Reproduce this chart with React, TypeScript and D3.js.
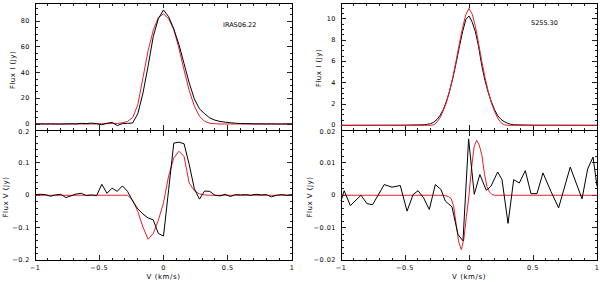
import React, { useEffect, useRef } from 'react';
import * as d3 from 'd3';

// velocity grids (km/s)
const velL = [
  -1, -0.96, -0.92, -0.88, -0.84, -0.8, -0.76, -0.72, -0.68, -0.64, -0.6, -0.56, -0.52,
  -0.48, -0.44, -0.4, -0.36, -0.32, -0.28, -0.24, -0.2, -0.16, -0.12, -0.08, -0.04, 0,
  0.04, 0.08, 0.12, 0.16, 0.2, 0.24, 0.28, 0.32, 0.36, 0.4, 0.44, 0.48, 0.52, 0.56, 0.6,
  0.64, 0.68, 0.72, 0.76, 0.8, 0.84, 0.88, 0.92, 0.96, 1,
];

// IRAS06.22 Stokes I
const iras_I_obs = [
  0, 0.1, 0, 0.1, 0, 0, 0.1, 0.2, 0.1, 0.5, 0.3, 0.7, 0.2,
  -0.6, 0.6, 1.2, -1.2, 0.3, 0.5, 0.8, 8, 24, 45, 68, 82, 88.8,
  83.5, 74, 62, 47, 32, 19.5, 11.8, 8, 4.7, 3, 2, 1.4, 1, 0.6, 0.4,
  0.3, 0.2, 0.1, 0.1, 0, 0.1, 0, 0, 0.1, 0,
];
const iras_I_model = [
  0, 0, 0, 0, 0, 0, 0, 0, 0, 0, 0, 0, 0.1,
  0.2, 0.3, 0.5, 0.4, 1, 2, 5, 15, 36, 57, 73, 83, 85.7,
  82, 73.5, 59, 42, 26, 14, 6, 2, 0.6, 0.2, 0, 0, 0, 0, 0,
  0, 0, 0, 0, 0, 0, 0, 0, 0, 0,
];

// IRAS06.22 Stokes V
const iras_V_obs = [
  0.002, 0.003, 0.002, -0.003, 0.001, 0.003, -0.007, -0.002, 0.004, 0.006, -0.001, 0.001, -0.001,
  0.034, 0.006, 0.022, 0.012, 0.029, 0.012, -0.018, -0.042, -0.058, -0.07, -0.076, -0.118, -0.126,
  0.017, 0.161, 0.164, 0.159, 0.095, 0.02, -0.012, 0.013, 0.012, 0, -0.002, 0.003, -0.004, 0.002, 0.001,
  0.002, 0, 0.003, 0.001, 0.002, -0.005, 0, 0.002, 0, 0.002,
];
const iras_V_model = [
  0, 0, 0, 0, 0, 0, 0, 0, 0, 0, 0, 0, 0,
  0, 0, 0, 0, 0, 0, -0.015, -0.05, -0.098, -0.136, -0.118, -0.077, -0.023,
  0.06, 0.115, 0.136, 0.12, 0.038, 0.014, 0.004, 0.001, 0, 0, 0, 0, 0, 0, 0,
  0, 0, 0, 0, 0, 0, 0, 0, 0, 0,
];

// S255.30 Stokes I
const velR_I = [
  -1, -0.5, -0.35, -0.325, -0.3, -0.275, -0.25, -0.225, -0.2, -0.175, -0.15, -0.125, -0.1,
  -0.075, -0.05, -0.025, 0, 0.025, 0.05, 0.075, 0.1, 0.125, 0.15, 0.175, 0.2, 0.225, 0.25,
  0.275, 0.3, 0.325, 0.35, 0.5, 1,
];
const s255_I_obs = [
  0, 0.01, 0.05, 0.1, 0.15, 0.3, 0.55, 0.95, 1.5, 2.3, 3.3, 4.5, 5.9,
  7.4, 8.8, 9.95, 10.28, 9.7, 8.8, 7.4, 5.6, 4.2, 3.1, 2.2, 1.45, 0.9, 0.55,
  0.35, 0.2, 0.1, 0.05, 0.01, 0,
];
const s255_I_model = [
  0, 0, 0, 0, 0, 0.05, 0.3, 0.75, 1.4, 2.2, 3.3, 4.6, 6.1,
  7.7, 9.2, 10.4, 11.0, 10.45, 9.3, 7.7, 6.0, 4.5, 3.2, 2.1, 1.3, 0.65, 0.25,
  0.05, 0, 0, 0, 0, 0,
];

// S255.30 Stokes V
const velR_Vobs = [
  -1, -0.975, -0.927, -0.844, -0.797, -0.753, -0.662, -0.602, -0.537, -0.484, -0.437,
  -0.398, -0.355, -0.31, -0.263, -0.219, -0.185, -0.133, -0.086, -0.047, -0.003, 0.041,
  0.085, 0.135, 0.172, 0.224, 0.258, 0.305, 0.349, 0.393, 0.44, 0.484, 0.531, 0.578,
  0.64, 0.7, 0.791, 0.883, 0.927, 0.969, 1,
];
const s255_V_obs = [
  -0.0018, 0.0014, -0.0032, 0, -0.0026, -0.0029, 0.0033, 0.0025, 0.003, -0.0049, 0.0002,
  0.0014, -0.0008, -0.0044, 0.0033, 0.0018, -0.0018, -0.0036, -0.0121, -0.0141, 0.0174, 0.0003,
  0.0064, 0.0015, 0.0028, 0.0072, 0.0048, -0.0087, 0.0048, 0.0038, 0.0076, 0.0005, 0.0005, 0.0069,
  0.0012, -0.0039, 0.0087, -0.0011, 0.0081, 0.0118, 0.0028,
];
const velR_Vmod = [
  -1, -0.2, -0.18, -0.16, -0.14, -0.12, -0.1, -0.08, -0.06, -0.04, -0.02, 0,
  0.02, 0.04, 0.06, 0.08, 0.1, 0.12, 0.14, 0.16, 0.18, 0.2, 1,
];
const s255_V_model = [
  0, 0, -0.0002, -0.0004, -0.001, -0.0034, -0.009, -0.0145, -0.0168, -0.0135, -0.0065, 0,
  0.0085, 0.015, 0.017, 0.0155, 0.0125, 0.0068, 0.0027, 0.001, 0.0002, 0, 0,
];

const xTicks = [-1, -0.5, 0, 0.5, 1];
const xTickLabels = ['\u22121', '\u22120.5', '0', '0.5', '1'];
const irasITicks = [0, 20, 40, 60, 80];
const irasVTicks = [-0.2, -0.1, 0, 0.1, 0.2];
const irasVTickLabels = ['\u22120.2', '\u22120.1', '0', '0.1', '0.2'];
const s255ITicks = [0, 2, 4, 6, 8, 10];
const s255VTicks = [-0.02, -0.01, 0, 0.01, 0.02];
const s255VTickLabels = ['\u22120.02', '\u22120.01', '0', '0.01', '0.02'];

const RED = '#e3202b';
const FONT = 'DejaVu Sans';

type Series = { v: number[]; f: number[]; color: string };

interface PanelOpts {
  x0: number; x1: number; y0: number; y1: number;
  yDomain: [number, number];
  yTicks: number[]; yLabels: string[]; yMinor: number;
  xLabels: boolean;
  series: Series[];
  ytitle: string; ytitleX: number; ytitleY: number;
  label?: string; labelX?: number; labelY?: number;
}

function drawPanel(svg: d3.Selection<SVGSVGElement, unknown, null, undefined>, o: PanelOpts) {
  const x = d3.scaleLinear().domain([-1, 1]).range([o.x0, o.x1]);
  const y = d3.scaleLinear().domain(o.yDomain).range([o.y1, o.y0]);
  const g = svg.append('g');

  const tk = g.append('g').attr('stroke', '#222').attr('stroke-width', 1).attr('shape-rendering', 'crispEdges');
  // x ticks (minor every 0.1)
  for (let k = -10; k <= 10; k++) {
    const v = k / 10;
    const len = k % 5 === 0 ? 5 : 2.5;
    tk.append('line').attr('x1', x(v)).attr('x2', x(v)).attr('y1', o.y1).attr('y2', o.y1 - len);
    tk.append('line').attr('x1', x(v)).attr('x2', x(v)).attr('y1', o.y0).attr('y2', o.y0 + len);
  }
  // y minor ticks
  const kLo = Math.ceil(o.yDomain[0] / o.yMinor - 1e-6);
  const kHi = Math.floor(o.yDomain[1] / o.yMinor + 1e-6);
  for (let k = kLo; k <= kHi; k++) {
    const yy = y(k * o.yMinor);
    tk.append('line').attr('x1', o.x0).attr('x2', o.x0 + 2.5).attr('y1', yy).attr('y2', yy);
    tk.append('line').attr('x1', o.x1).attr('x2', o.x1 - 2.5).attr('y1', yy).attr('y2', yy);
  }
  o.yTicks.forEach(t => {
    const yy = y(t);
    tk.append('line').attr('x1', o.x0).attr('x2', o.x0 + 5).attr('y1', yy).attr('y2', yy);
    tk.append('line').attr('x1', o.x1).attr('x2', o.x1 - 5).attr('y1', yy).attr('y2', yy);
  });

  // frame
  g.append('rect')
    .attr('x', o.x0).attr('y', o.y0)
    .attr('width', o.x1 - o.x0).attr('height', o.y1 - o.y0)
    .attr('fill', 'none').attr('stroke', '#000').attr('stroke-width', 1)
    .attr('shape-rendering', 'crispEdges');

  // y tick labels (top label of the lower panels sits just under the separator)
  o.yTicks.forEach((t, i) => {
    const atTop = Math.abs(y(t) - o.y0) < 1;
    g.append('text')
      .attr('x', o.x0 - 5).attr('y', y(t)).attr('dy', atTop ? '0.6em' : '0.3em')
      .attr('text-anchor', 'end')
      .attr('font-family', FONT).attr('font-size', 6.5).attr('letter-spacing', 0.5)
      .text(o.yLabels[i]);
  });

  if (o.xLabels) {
    xTicks.forEach((t, i) => {
      g.append('text')
        .attr('x', x(t)).attr('y', 269.5)
        .attr('text-anchor', 'middle')
        .attr('font-family', FONT).attr('font-size', 6.5).attr('letter-spacing', 0.5)
        .text(xTickLabels[i]);
    });
    g.append('text')
      .attr('x', (o.x0 + o.x1) / 2).attr('y', 279)
      .attr('text-anchor', 'middle')
      .attr('font-family', FONT).attr('font-size', 7).attr('letter-spacing', 0.6)
      .text('V (km/s)');
  }

  g.append('text')
    .attr('transform', `translate(${o.ytitleX},${o.ytitleY}) rotate(-90)`)
    .attr('dy', '0.35em')
    .attr('text-anchor', 'middle')
    .attr('font-family', FONT).attr('font-size', 7).attr('letter-spacing', 0.5)
    .text(o.ytitle);

  if (o.label) {
    g.append('text')
      .attr('x', o.labelX!).attr('y', o.labelY!)
      .attr('font-family', FONT).attr('font-size', 6.5)
      .attr('fill', '#000')
      .text(o.label);
  }

  const line = d3.line<[number, number]>().x(d => x(d[0])).y(d => y(d[1]));
  o.series.forEach(s => {
    const pts = s.v.map((v, i) => [v, s.f[i]] as [number, number]);
    g.append('path')
      .attr('d', line(pts))
      .attr('fill', 'none')
      .attr('stroke', s.color)
      .attr('stroke-width', 1)
      .attr('stroke-linejoin', 'round');
  });
}

export default function App() {
  const ref = useRef<SVGSVGElement>(null);

  useEffect(() => {
    if (!ref.current) return;
    const svg = d3.select(ref.current);
    svg.selectAll('*').remove();

    const L = { x0: 35, x1: 292 };
    const R = { x0: 341, x1: 597 };
    const top = { y0: 3, y1: 130 };
    const bot = { y0: 130.5, y1: 260 };

    drawPanel(svg, {
      ...L, ...top,
      yDomain: [-4.67, 94.2], yTicks: irasITicks, yLabels: irasITicks.map(String), yMinor: 5,
      xLabels: false,
      series: [
        { v: velL, f: iras_I_model, color: RED },
        { v: velL, f: iras_I_obs, color: '#000' },
      ],
      ytitle: 'Flux I (Jy)', ytitleX: 13, ytitleY: 70,
      label: 'IRAS06.22', labelX: 223, labelY: 27,
    });
    drawPanel(svg, {
      ...L, ...bot,
      yDomain: [-0.2, 0.2], yTicks: irasVTicks, yLabels: irasVTickLabels, yMinor: 0.02,
      xLabels: true,
      series: [
        { v: velL, f: iras_V_model, color: RED },
        { v: velL, f: iras_V_obs, color: '#000' },
      ],
      ytitle: 'Flux V (Jy)', ytitleX: 6, ytitleY: 197,
    });
    drawPanel(svg, {
      ...R, ...top,
      yDomain: [-0.44, 11.5], yTicks: s255ITicks, yLabels: s255ITicks.map(String), yMinor: 0.5,
      xLabels: false,
      series: [
        { v: velR_I, f: s255_I_obs, color: '#000' },
        { v: velR_I, f: s255_I_model, color: RED },
      ],
      ytitle: 'Flux I (Jy)', ytitleX: 319, ytitleY: 68,
      label: 'S255.30', labelX: 531, labelY: 25,
    });
    drawPanel(svg, {
      ...R, ...bot,
      yDomain: [-0.02, 0.02], yTicks: s255VTicks, yLabels: s255VTickLabels, yMinor: 0.002,
      xLabels: true,
      series: [
        { v: velR_Vmod, f: s255_V_model, color: RED },
        { v: velR_Vobs, f: s255_V_obs, color: '#000' },
      ],
      ytitle: 'Flux V (Jy)', ytitleX: 310, ytitleY: 197,
    });
  }, []);

  return (
    <svg
      ref={ref}
      width={600}
      height={282}
      style={{ position: 'absolute', left: 0, top: 0, background: '#fff' }}
    />
  );
}
